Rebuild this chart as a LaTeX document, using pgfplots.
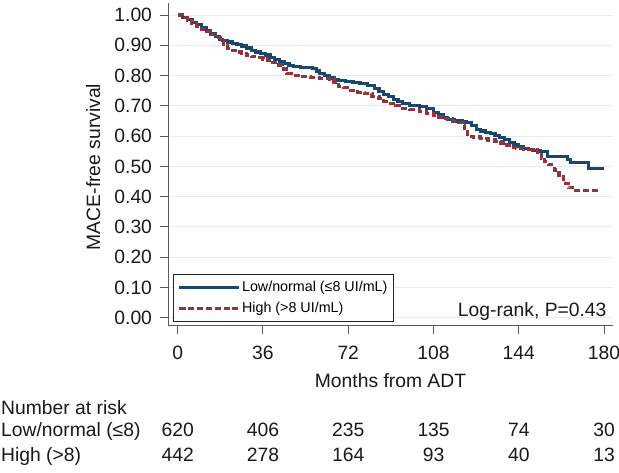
\documentclass[border=0pt]{standalone}
\usepackage{fontspec}
\setmainfont{Liberation Sans}
\usepackage{pgfplots}
\pgfplotsset{compat=1.18}
\definecolor{navyc}{RGB}{26,71,111}
\definecolor{maroonc}{RGB}{144,53,59}
\definecolor{gridc}{RGB}{230,237,240}
\definecolor{axc}{RGB}{90,90,90}

\pgfplotstableread{
t s
0 1.000
2 0.993
4 0.985
6 0.976
8 0.968
10 0.958
12 0.948
14 0.938
16 0.928
17.5 0.920
19 0.915
21 0.911
23 0.906
25 0.902
27 0.898
29 0.891
31 0.884
33 0.878
35 0.872
37 0.868
39 0.861
41 0.854
43 0.847
45 0.840
47 0.834
49 0.830
52 0.828
55 0.827
57 0.824
58.5 0.815
60 0.806
62 0.799
64 0.792
66 0.786
68 0.783
71 0.780
74 0.778
77 0.775
80 0.768
83 0.757
85 0.748
87 0.738
89 0.730
91 0.722
93 0.714
95 0.708
98 0.702
102 0.698
105 0.690
108 0.679
110 0.670
112 0.662
114 0.654
117 0.650
120 0.647
122 0.645
124 0.634
126 0.623
128 0.617
130 0.613
132 0.608
134 0.603
136 0.596
138 0.588
140 0.580
142 0.573
144 0.566
146 0.560
148 0.556
150 0.553
153 0.550
156 0.533
164.5 0.522
166 0.512
173.5 0.494
180 0.494
}\lowtab

\pgfplotstableread{
t s
0 1.000
2 0.992
4 0.983
6 0.972
8 0.963
10 0.954
12 0.945
14 0.935
16 0.925
18 0.915
19.5 0.902
21 0.890
23 0.884
25 0.878
27 0.874
29 0.868
31 0.862
34 0.859
36 0.855
38 0.851
40 0.843
42 0.835
44 0.822
46 0.807
48 0.801
52 0.797
56 0.795
60 0.791
64 0.789
66 0.778
68 0.765
70 0.760
73 0.752
76 0.745
79 0.740
82 0.732
85 0.723
87 0.714
89 0.708
92 0.700
95 0.692
98 0.688
102 0.682
105 0.676
108 0.669
110 0.663
113 0.657
116 0.649
118.5 0.645
120 0.637
121 0.625
122.5 0.600
125 0.597
128 0.592
131 0.587
134 0.583
136.5 0.577
139 0.570
141 0.563
143 0.558
146 0.556
150 0.555
152 0.540
153.5 0.527
155 0.515
156.5 0.505
159 0.488
161 0.466
163 0.444
165 0.430
166.7 0.419
178 0.419
}\hightab

\begin{document}
\begin{tikzpicture}[x=1bp,y=1bp]
\path[use as bounding box] (0,0) rectangle (619,473);
\begin{axis}[
  at={(168bp,147.5bp)}, anchor=south west,
  scale only axis, width=445bp, height=322.5bp,
  xmin=-4.1, xmax=183.8, ymin=-0.026, ymax=1.04,
  axis x line*=bottom, axis y line*=left,
  axis line style={axc, line width=1bp, -},
  tick align=outside, major tick length=8.5bp,
  tick style={axc, line width=1bp},
  xtick={0,36,72,108,144,180},
  ytick={0,0.1,0.2,0.3,0.4,0.5,0.6,0.7,0.8,0.9,1.0},
  yticklabel={\pgfmathprintnumber[fixed,fixed zerofill,precision=2]{\tick}},
  /pgf/number format/assume math mode=true,
  ticklabel style={font=\fontsize{19.3bp}{23bp}\selectfont, text=black!90},
  xticklabel style={yshift=-9bp},
  yticklabel style={xshift=-4bp},
  ymajorgrids, grid style={gridc, line width=0.9bp},
  legend style={at={(rel axis cs:0.011,0.012)}, anchor=south west,
    draw=black!85, line width=1bp, fill=white,
    font=\fontsize{14.3bp}{16bp}\selectfont,
    inner xsep=4.5bp, inner ysep=5bp, row sep=5bp, cells={anchor=west}},
  legend image code/.code={\draw[#1] (0bp,0bp) -- (59bp,0bp);},
]
\addplot[const plot, navyc, line width=3.2bp] table[x=t,y=s] {\lowtab};
\addlegendentry{Low/normal (≤8 UI/mL)}
\addplot[const plot, maroonc, line width=3.2bp, dash pattern=on 6bp off 2.8bp] table[x=t,y=s] {\hightab};
\addlegendentry{High (>8 UI/mL)}
\end{axis}
\begin{scope}[font=\fontsize{19.3bp}{23bp}\selectfont, text=black!90]
\node[rotate=90, anchor=base] at (100,306) {MACE-free survival};
\node[anchor=base] at (390.5,85) {Months from ADT};
\node[anchor=base east] at (610,156.3) {Log-rank, P=0.43};
\node[anchor=base west, inner sep=0] at (1,58) {Number at risk};
\node[anchor=base west, inner sep=0] at (1,36.3) {Low/normal (≤8)};
\node[anchor=base west, inner sep=0] at (1,11.3) {High (>8)};
\foreach \x/\a/\b in {177.7/620/442, 263/406/278, 348.3/235/164, 433.6/135/93, 518.8/74/40, 604.1/30/13} {
  \node[anchor=base] at (\x,36.3) {\a};
  \node[anchor=base] at (\x,11.3) {\b};
}
\end{scope}
\end{tikzpicture}
\end{document}
